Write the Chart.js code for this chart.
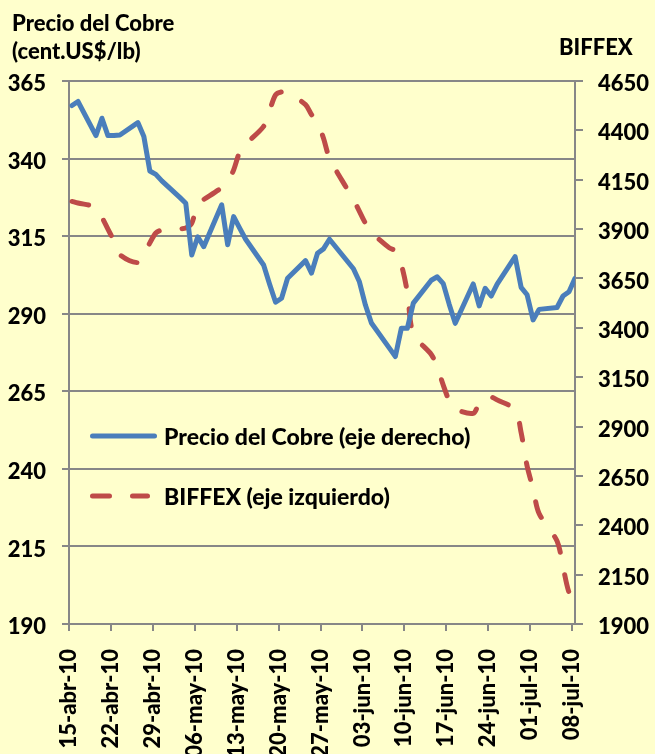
<!DOCTYPE html>
<html>
<head>
<meta charset="utf-8">
<script src="https://cdn.jsdelivr.net/npm/chart.js@4.4.1/dist/chart.umd.min.js"></script>
<style>
    body { margin: 0; background: #FFFFCC; }
    #wrap { width: 655px; height: 754px; }
</style>
</head>
<body>
<div id="wrap"><canvas id="chart" width="655" height="754"></canvas></div>
<script>
// etiquetas del eje x (semanales)
const tickLabels = ['15-abr-10', '22-abr-10', '29-abr-10', '06-may-10', '13-may-10', '20-may-10', '27-may-10',
    '03-jun-10', '10-jun-10', '17-jun-10', '24-jun-10', '01-jul-10', '08-jul-10'];

// precio del cobre, cent.US$/lb
const cobreFechas = ['2010-04-15', '2010-04-16', '2010-04-19', '2010-04-20', '2010-04-21', '2010-04-22', '2010-04-23',
    '2010-04-26', '2010-04-27', '2010-04-28', '2010-04-29', '2010-04-30', '2010-05-03', '2010-05-04', '2010-05-05',
    '2010-05-06', '2010-05-07', '2010-05-10', '2010-05-11', '2010-05-12', '2010-05-13', '2010-05-14', '2010-05-17',
    '2010-05-18', '2010-05-19', '2010-05-20', '2010-05-21', '2010-05-24', '2010-05-25', '2010-05-26', '2010-05-27',
    '2010-05-28', '2010-06-01', '2010-06-02', '2010-06-03', '2010-06-04', '2010-06-07', '2010-06-08', '2010-06-09',
    '2010-06-10', '2010-06-11', '2010-06-14', '2010-06-15', '2010-06-16', '2010-06-17', '2010-06-18', '2010-06-21',
    '2010-06-22', '2010-06-23', '2010-06-24', '2010-06-25', '2010-06-28', '2010-06-29', '2010-06-30', '2010-07-01',
    '2010-07-02', '2010-07-05', '2010-07-06', '2010-07-07', '2010-07-08'];
const cobreValores = [357.1, 358.4, 347.4, 353.0, 347.4, 347.4, 347.6,
    351.6, 347.1, 336.0, 334.9, 332.8, 327.5, 325.6, 308.9,
    314.8, 311.6, 325.1, 312.2, 321.3, 317.6, 314.0, 305.7,
    299.5, 293.7, 295.0, 301.4, 307.1, 303.1, 309.5, 310.9,
    314.0, 304.5, 300.3, 292.8, 287.0, 278.9, 276.2, 285.3,
    285.3, 293.4, 300.8, 301.9, 299.7, 293.0, 286.9, 299.6,
    292.5, 298.2, 295.7, 299.5, 308.4, 298.5, 296.1, 288.0,
    291.4, 292.0, 295.7, 297.1, 301.4];

// BIFFEX
const biffexFechas = ['2010-04-15', '2010-04-16', '2010-04-19', '2010-04-20', '2010-04-21', '2010-04-22', '2010-04-23',
    '2010-04-26', '2010-04-27', '2010-04-28', '2010-04-29', '2010-04-30', '2010-05-03', '2010-05-04', '2010-05-05',
    '2010-05-06', '2010-05-07', '2010-05-10', '2010-05-11', '2010-05-12', '2010-05-13', '2010-05-14', '2010-05-17',
    '2010-05-18', '2010-05-19', '2010-05-20', '2010-05-21', '2010-05-24', '2010-05-25', '2010-05-26', '2010-05-27',
    '2010-05-28', '2010-05-31', '2010-06-01', '2010-06-02', '2010-06-03', '2010-06-04', '2010-06-07', '2010-06-08',
    '2010-06-09', '2010-06-10', '2010-06-11', '2010-06-14', '2010-06-15', '2010-06-16', '2010-06-17', '2010-06-18',
    '2010-06-21', '2010-06-22', '2010-06-23', '2010-06-24', '2010-06-25', '2010-06-28', '2010-06-29', '2010-06-30',
    '2010-07-01', '2010-07-02', '2010-07-05', '2010-07-06', '2010-07-07', '2010-07-08'];
const biffexValores = [4040, 4032, 4010, 3960, 3900, 3840, 3770,
    3730, 3770, 3830, 3880, 3895, 3902, 3905, 3930,
    4030, 4050, 4110, 4140, 4200, 4290, 4330, 4420,
    4500, 4580, 4595, 4590, 4530, 4480, 4440, 4360,
    4260, 4100, 4050, 3990, 3930, 3885, 3805, 3790,
    3720, 3580, 3370, 3265, 3200, 3110, 3030, 2990,
    2967, 3020, 3050, 3050, 3035, 2985, 2870, 2700,
    2585, 2460, 2320, 2190, 2060, 2020];

const inicio = Date.parse('2010-04-15');
const dia = s => (Date.parse(s) - inicio) / 864e5;

const fuente = 'Lato';
Chart.defaults.font.family = fuente;
Chart.defaults.font.weight = '900';
Chart.defaults.color = '#000';

const gris = '#878787';

const decor = {
    id: 'decor',
    beforeDraw(chart) {
        const ctx = chart.ctx;
        ctx.save();
        ctx.fillStyle = '#FFFFCC';
        ctx.fillRect(0, 0, chart.width, chart.height);
        ctx.restore();
    },
    afterDraw(chart) {
        const ctx = chart.ctx;
        ctx.save();
        ctx.fillStyle = '#000';
        ctx.font = '900 22px ' + fuente;
        ctx.textBaseline = 'alphabetic';
        ctx.fillText('Precio del Cobre', 12, 31);
        ctx.fillText('(cent.US$/lb)', 12, 59);
        ctx.fillText('BIFFEX', 559, 55);

        // leyenda dentro del area
        ctx.font = '900 23px ' + fuente;
        chart.data.datasets.forEach((ds, i) => {
            const y = 436 + 60 * i;
            ctx.strokeStyle = ds.borderColor;
            ctx.lineWidth = 5;
            ctx.lineCap = 'round';
            ctx.setLineDash(ds.borderDash || []);
            ctx.beginPath();
            ctx.moveTo(92.5, y);
            ctx.lineTo(i === 0 ? 154.5 : 147.5, y);
            ctx.stroke();
            ctx.setLineDash([]);
            ctx.textBaseline = 'middle';
            ctx.fillText(ds.label, 164, y + 2);
        });
        ctx.restore();
    }
};

new Chart(document.getElementById('chart'), {
    type: 'line',
    data: {
        datasets: [{
            label: 'Precio del Cobre (eje derecho)',
            data: cobreFechas.map((f, i) => ({ x: dia(f), y: cobreValores[i] })),
            borderColor: '#4A7EBB',
            borderWidth: 5,
            borderJoinStyle: 'round',
            borderCapStyle: 'round',
            pointRadius: 0,
            tension: 0,
            yAxisID: 'y'
        }, {
            label: 'BIFFEX (eje izquierdo)',
            data: biffexFechas.map((f, i) => ({ x: dia(f), y: biffexValores[i] })),
            borderColor: '#BE4B48',
            borderWidth: 5,
            borderDash: [17, 23],
            borderCapStyle: 'round',
            pointRadius: 0,
            tension: 0.3,
            yAxisID: 'y1'
        }]
    },
    options: {
        responsive: false,
        animation: false,
        layout: { padding: { top: 81, left: 0, right: 0, bottom: 0 } },
        plugins: { legend: { display: false }, tooltip: { enabled: false } },
        scales: {
            x: {
                type: 'linear',
                min: -0.5,
                max: 84,
                afterBuildTicks: s => { s.ticks = tickLabels.map((t, i) => ({ value: i * 7 - 0.5 })); },
                afterFit: s => { s.height = 130; },
                grid: { drawOnChartArea: false, color: gris, lineWidth: 2, tickLength: 7 },
                border: { color: gris, width: 2 },
                ticks: {
                    autoSkip: false,
                    maxRotation: 90,
                    minRotation: 90,
                    padding: 18,
                    font: { size: 22 },
                    callback: (v, i) => tickLabels[i]
                }
            },
            y: {
                position: 'left',
                min: 190,
                max: 365,
                afterFit: s => { s.width = 69; },
                grid: { color: gris, lineWidth: 2, tickLength: 7 },
                border: { color: gris, width: 2 },
                ticks: { stepSize: 25, padding: 16, labelOffset: 3, font: { size: 22 }, callback: v => String(v) }
            },
            y1: {
                position: 'right',
                min: 1900,
                max: 4650,
                afterFit: s => { s.width = 80; },
                grid: { drawOnChartArea: false, color: gris, lineWidth: 2, tickLength: 8 },
                border: { color: gris, width: 2 },
                ticks: { stepSize: 250, padding: 15, labelOffset: 3, font: { size: 22 }, callback: v => String(v) }
            }
        }
    },
    plugins: [decor]
});
</script>
</body>
</html>
